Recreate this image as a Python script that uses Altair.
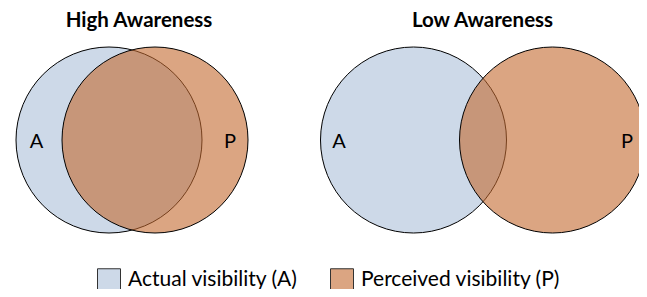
import altair as alt
import pandas as pd

# ---- data ----
panels = ["High Awareness", "High Awareness", "Low Awareness", "Low Awareness"]
sets = ["Actual visibility (A)", "Perceived visibility (P)",
        "Actual visibility (A)", "Perceived visibility (P)"]
letters = ["A", "P", "A", "P"]
cx = [101.0, 147.0, 405.5, 544.5]
cy = [132.0, 132.0, 132.0, 132.0]
radius = [93.0, 93.0, 93.0, 93.0]
label_x = [28.5, 222.0, 331.0, 619.0]
label_y = [140.0, 140.0, 140.0, 140.0]

titles = ["High Awareness", "Low Awareness"]
title_x = [131.0, 474.5]
title_y = [18.5, 18.5]

set_names = ["Actual visibility (A)", "Perceived visibility (P)"]
set_colors = ["#acc0d9", "#c3692f"]          # drawn at 60% fill opacity
legend_colors = ["#cdd9e8", "#dba582"]       # same colours as seen on white

W, H = 631, 281

circles = pd.DataFrame({"panel": panels, "set": sets, "cx": cx, "cy": cy, "r": radius})
labels = pd.DataFrame({"letter": letters, "x": label_x, "y": label_y})
heads = pd.DataFrame({"title": titles, "x": title_x, "y": title_y})

xs = alt.Scale(domain=[0, W], range=[0, W])
ys = alt.Scale(domain=[0, H], range=[0, H])

# invisible marks that only carry the legend (colours as they appear on white)
legend_layer = alt.Chart(circles).mark_square(fillOpacity=0).encode(
    x=alt.X("cx:Q", scale=xs, axis=None),
    y=alt.Y("cy:Q", scale=ys, axis=None),
    fill=alt.Fill(
        "set:N",
        scale=alt.Scale(domain=set_names, range=legend_colors),
        legend=alt.Legend(
            orient="none", legendX=89, legendY=260, direction="horizontal",
            title=None, symbolType="square", symbolSize=529,
            labelFont="Lato", labelFontSize=21, labelColor="black", labelLimit=400,
            labelOffset=7, columnPadding=30, padding=0,
            symbolStrokeColor="#333333", symbolStrokeWidth=1,
        ),
    ),
)

circle_layer = alt.Chart(circles).mark_point(
    shape="circle", filled=True, fillOpacity=0.6, opacity=1,
    stroke="black", strokeWidth=1, strokeOpacity=1
).encode(
    x=alt.X("cx:Q", scale=xs, axis=None),
    y=alt.Y("cy:Q", scale=ys, axis=None),
    size=alt.Size("r:Q", scale=alt.Scale(type="pow", exponent=2, domain=[0, 100], range=[0, 40000]), legend=None),
    color=alt.Color("set:N", scale=alt.Scale(domain=set_names, range=set_colors), legend=None),
)

label_layer = alt.Chart(labels).mark_text(
    font="Lato", fontSize=20, baseline="alphabetic", align="center", color="black"
).encode(
    x=alt.X("x:Q", scale=xs, axis=None),
    y=alt.Y("y:Q", scale=ys, axis=None),
    text="letter:N",
)

title_layer = alt.Chart(heads).mark_text(
    font="Lato", fontSize=20.5, fontWeight="bold", baseline="alphabetic", align="center", color="black"
).encode(
    x=alt.X("x:Q", scale=xs, axis=None),
    y=alt.Y("y:Q", scale=ys, axis=None),
    text="title:N",
)

chart = alt.layer(legend_layer, circle_layer, label_layer, title_layer).properties(
    width=W, height=H, autosize=alt.AutoSizeParams(type="none"), padding=0
).configure_view(stroke=None)

chart.save("out.html", embed_options={"renderer": "svg", "actions": False})
